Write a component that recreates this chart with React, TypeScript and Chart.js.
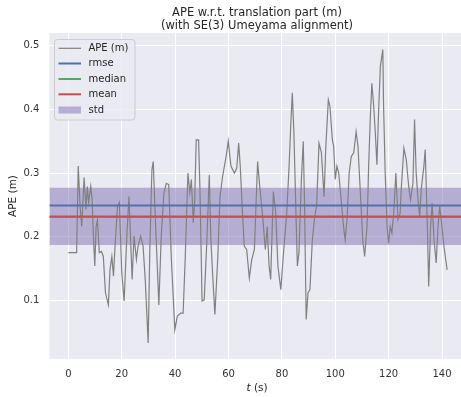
import React, { useEffect, useRef } from "react";
import { Chart, registerables } from "chart.js";

Chart.register(...registerables);

// ---- data ----
const timeS = [
  0, 3.1, 3.7, 4.4, 5.0, 5.9, 6.6, 7.1, 7.6, 8.4,
  8.9, 9.4, 9.9, 10.4, 10.9, 11.6, 12.4, 13.1, 13.9, 15.0,
  15.6, 16.3, 16.9, 17.5, 18.4, 19.1, 20.0, 20.9, 21.9, 22.7,
  23.9, 24.6, 25.5, 26.1, 27.1, 28.0, 28.8, 29.9, 30.5, 31.3,
  31.8, 32.6, 33.9, 34.8, 35.8, 36.7, 37.6, 38.6, 39.9, 40.8,
  42.1, 43.0, 43.8, 44.8, 45.5, 46.1, 46.8, 47.3, 47.9, 48.8,
  49.3, 50.1, 50.9, 51.8, 52.8, 53.4, 54.1, 54.9, 56.0, 56.8,
  57.8, 59.1, 59.9, 60.9, 62.2, 63.1, 63.8, 64.4, 65.3, 65.9,
  66.8, 67.8, 68.7, 69.7, 70.9, 71.8, 72.8, 73.8, 74.5, 75.2,
  75.8, 76.4, 76.8, 77.7, 78.5, 79.6, 80.5, 81.8, 82.7, 83.3,
  83.9, 84.5, 85.2, 85.8, 86.4, 87.3, 88.0, 88.5, 89.1, 89.8,
  90.5, 91.4, 92.3, 93.0, 93.9, 94.8, 95.8, 96.4, 97.4, 98.0,
  98.9, 99.4, 100.0, 100.6, 101.3, 102.2, 103.1, 103.7, 104.4, 105.2,
  106.0, 106.9, 107.8, 108.5, 109.4, 110.3, 111.0, 111.9, 112.5, 113.1,
  113.7, 114.4, 115.0, 115.6, 116.3, 116.9, 117.8, 118.1, 118.7, 119.4,
  120.0, 120.6, 121.2, 121.9, 122.7, 123.5, 124.3, 124.7, 125.7, 126.6,
  127.5, 128.2, 129.1, 129.7, 130.3, 131.0, 131.6, 132.2, 133.2, 133.7,
  134.5, 135.0, 135.7, 136.3, 137.0, 137.8, 138.5, 139.1, 139.7, 140.7,
  141.9,
];

const apeM = [
  0.175, 0.175, 0.311, 0.248, 0.216, 0.293, 0.243, 0.279, 0.254, 0.279,
  0.258, 0.201, 0.154, 0.216, 0.227, 0.175, 0.177, 0.169, 0.112, 0.093,
  0.148, 0.169, 0.138, 0.185, 0.248, 0.254, 0.144, 0.099, 0.201, 0.263,
  0.133, 0.201, 0.164, 0.185, 0.201, 0.185, 0.133, 0.033, 0.175, 0.305,
  0.318, 0.227, 0.093, 0.201, 0.269, 0.284, 0.282, 0.164, 0.054, 0.075,
  0.080, 0.080, 0.169, 0.300, 0.269, 0.290, 0.222, 0.253, 0.352, 0.352,
  0.274, 0.099, 0.101, 0.185, 0.297, 0.195, 0.138, 0.078, 0.169, 0.263,
  0.295, 0.326, 0.350, 0.311, 0.300, 0.308, 0.347, 0.311, 0.232, 0.185,
  0.180, 0.135, 0.164, 0.180, 0.318, 0.274, 0.232, 0.180, 0.216, 0.154,
  0.133, 0.216, 0.271, 0.237, 0.154, 0.117, 0.169, 0.237, 0.311, 0.373,
  0.426, 0.363, 0.248, 0.154, 0.175, 0.290, 0.350, 0.248, 0.070, 0.112,
  0.117, 0.195, 0.232, 0.248, 0.347, 0.332, 0.263, 0.337, 0.415, 0.405,
  0.352, 0.342, 0.290, 0.311, 0.300, 0.258, 0.216, 0.195, 0.227, 0.300,
  0.326, 0.332, 0.365, 0.342, 0.269, 0.195, 0.169, 0.216, 0.311, 0.384,
  0.441, 0.405, 0.363, 0.313, 0.405, 0.468, 0.494, 0.405, 0.300, 0.216,
  0.190, 0.216, 0.206, 0.237, 0.300, 0.227, 0.237, 0.274, 0.339, 0.321,
  0.279, 0.258, 0.284, 0.384, 0.300, 0.258, 0.232, 0.274, 0.311, 0.337,
  0.216, 0.122, 0.216, 0.253, 0.195, 0.159, 0.216, 0.248, 0.227, 0.185,
  0.148,
];

const rmseValue = 0.249;
const medianValue = 0.231;
const meanValue = 0.232;
const stdValue = 0.045;

const xTickValues = [0, 20, 40, 60, 80, 100, 120, 140];
const yTickValues = [0.1, 0.2, 0.3, 0.4, 0.5];
const xLimits = [-7.1, 147.1];
const yLimits = [0.008, 0.52];

const titleLines = ["APE w.r.t. translation part (m)", "(with SE(3) Umeyama alignment)"];
const xLabelItalic = "t";
const xLabelRest = " (s)";
const yLabel = "APE (m)";

const FONT = "'DejaVu Sans', 'Liberation Sans', sans-serif";
const TEXT = "#262626";
const COLORS = {
  ape: "#808080",
  rmse: "#4C72B0",
  median: "#55A868",
  mean: "#C44E52",
  std: "rgba(129,114,178,0.5)",
};

export default function App() {
  const ref = useRef<HTMLCanvasElement>(null);

  useEffect(() => {
    document.body.style.margin = "0";
    const canvas = ref.current!;
    const hline = (v: number) => [
      { x: xLimits[0], y: v },
      { x: xLimits[1], y: v },
    ];

    const legendItems = [
      { label: "APE (m)", color: COLORS.ape, kind: "line", width: 1.2 },
      { label: "rmse", color: COLORS.rmse, kind: "line", width: 2 },
      { label: "median", color: COLORS.median, kind: "line", width: 2 },
      { label: "mean", color: COLORS.mean, kind: "line", width: 2 },
      { label: "std", color: COLORS.std, kind: "patch", width: 0 },
    ];

    const decor = {
      id: "decor",
      beforeDraw(chart: any) {
        const { ctx, chartArea: a } = chart;
        ctx.save();
        ctx.fillStyle = "#ffffff";
        ctx.fillRect(0, 0, chart.width, chart.height);
        ctx.fillStyle = "#EAEAF2";
        ctx.fillRect(a.left, a.top, a.right - a.left, a.bottom - a.top);
        ctx.restore();
      },
      afterDraw(chart: any) {
        const { ctx } = chart;
        ctx.save();
        ctx.fillStyle = TEXT;
        ctx.textBaseline = "middle";
        // title
        ctx.textAlign = "center";
        ctx.font = `11.5px ${FONT}`;
        ctx.fillText(titleLines[0], 257, 13.5);
        ctx.fillText(titleLines[1], 257, 26.5);
        // x label
        ctx.font = `italic 10.5px ${FONT}`;
        const w1 = ctx.measureText(xLabelItalic).width;
        ctx.font = `10.5px ${FONT}`;
        const w2 = ctx.measureText(xLabelRest).width;
        const x0 = 257 - (w1 + w2) / 2;
        ctx.textAlign = "left";
        ctx.font = `italic 10.5px ${FONT}`;
        ctx.fillText(xLabelItalic, x0, 388);
        ctx.font = `10.5px ${FONT}`;
        ctx.fillText(xLabelRest, x0 + w1, 388);
        // y label
        ctx.save();
        ctx.translate(13, 196);
        ctx.rotate(-Math.PI / 2);
        ctx.textAlign = "center";
        ctx.fillText(yLabel, 0, 0);
        ctx.restore();
        // legend
        const bx = 54.5, by = 39.5, bw = 80.5, bh = 80.5, r = 3;
        ctx.beginPath();
        ctx.moveTo(bx + r, by);
        ctx.arcTo(bx + bw, by, bx + bw, by + bh, r);
        ctx.arcTo(bx + bw, by + bh, bx, by + bh, r);
        ctx.arcTo(bx, by + bh, bx, by, r);
        ctx.arcTo(bx, by, bx + bw, by, r);
        ctx.closePath();
        ctx.fillStyle = "rgba(234,234,242,0.8)";
        ctx.fill();
        ctx.strokeStyle = "#CCCCCC";
        ctx.lineWidth = 1;
        ctx.stroke();
        const rows = [48.3, 63.5, 79, 94.3, 110];
        ctx.font = `10px ${FONT}`;
        ctx.textAlign = "left";
        legendItems.forEach((it, i) => {
          const yy = rows[i];
          if (it.kind === "line") {
            ctx.strokeStyle = it.color;
            ctx.lineWidth = it.width;
            ctx.beginPath();
            ctx.moveTo(58.5, yy);
            ctx.lineTo(81, yy);
            ctx.stroke();
          } else {
            ctx.fillStyle = it.color;
            ctx.fillRect(58.5, yy - 3.5, 22.5, 7);
          }
          ctx.fillStyle = TEXT;
          ctx.fillText(it.label, 88.5, yy);
        });
        ctx.restore();
      },
    };

    const chart = new Chart(canvas, {
      type: "line",
      data: {
        datasets: [
          { label: "mean", data: hline(meanValue), borderColor: COLORS.mean, borderWidth: 2, pointRadius: 0, order: 1 },
          { label: "median", data: hline(medianValue), borderColor: COLORS.median, borderWidth: 2, pointRadius: 0, order: 2 },
          { label: "rmse", data: hline(rmseValue), borderColor: COLORS.rmse, borderWidth: 2, pointRadius: 0, order: 3 },
          {
            label: "APE (m)",
            data: timeS.map((t, i) => ({ x: t, y: apeM[i] })),
            borderColor: COLORS.ape,
            borderWidth: 1.2,
            pointRadius: 0,
            order: 4,
          },
          { label: "std low", data: hline(meanValue - stdValue), borderWidth: 0, borderColor: "rgba(0,0,0,0)", pointRadius: 0, order: 5 },
          {
            label: "std",
            data: hline(meanValue + stdValue),
            borderWidth: 0,
            borderColor: "rgba(0,0,0,0)",
            backgroundColor: COLORS.std,
            fill: "-1",
            pointRadius: 0,
            order: 6,
          },
        ] as any,
      },
      options: {
        animation: false,
        responsive: false,
        layout: { padding: { top: 33, left: 0, right: 0, bottom: 0 } },
        plugins: { legend: { display: false }, tooltip: { enabled: false }, title: { display: false } },
        scales: {
          x: {
            type: "linear",
            min: xLimits[0],
            max: xLimits[1],
            afterBuildTicks: (s: any) => {
              s.ticks = xTickValues.map((v) => ({ value: v }));
            },
            afterFit: (s: any) => {
              s.height = 38;
            },
            grid: { color: "#ffffff", lineWidth: 1, drawTicks: false },
            border: { display: false },
            ticks: { padding: 9, color: "#333333", font: { family: FONT, size: 10 }, callback: (v: any) => String(v) },
          },
          y: {
            type: "linear",
            min: yLimits[0],
            max: yLimits[1],
            afterBuildTicks: (s: any) => {
              s.ticks = yTickValues.map((v) => ({ value: v }));
            },
            afterFit: (s: any) => {
              s.width = 49.4;
            },
            grid: { color: "#ffffff", lineWidth: 1, drawTicks: false },
            border: { display: false },
            ticks: { padding: 10, color: "#333333", font: { family: FONT, size: 10 }, callback: (v: any) => Number(v).toFixed(1) },
          },
        },
      } as any,
      plugins: [decor],
    });
    return () => chart.destroy();
  }, []);

  return (
    <div style={{ position: "fixed", left: 0, top: 0, width: 461, height: 397 }}>
      <canvas ref={ref} width={461} height={397} style={{ display: "block" }} />
    </div>
  );
}
